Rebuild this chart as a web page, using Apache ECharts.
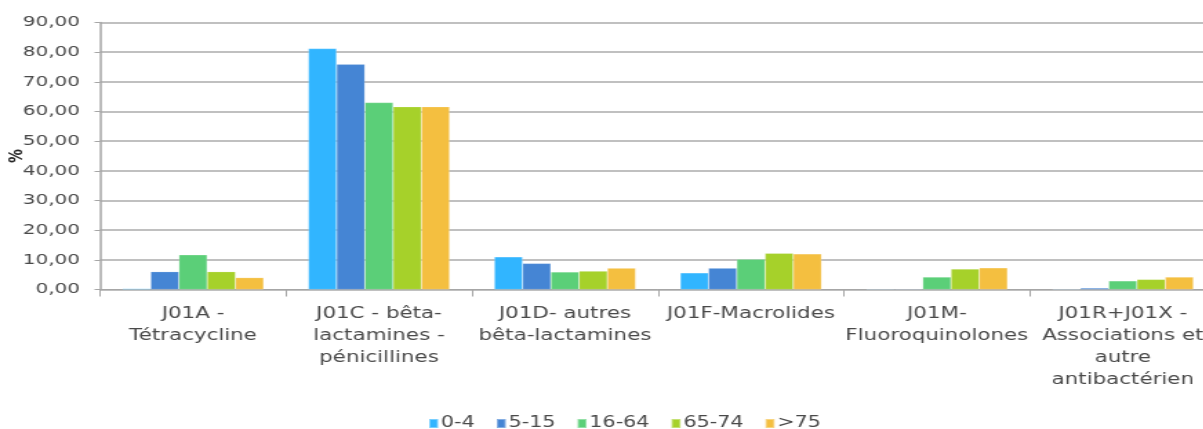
<!DOCTYPE html>
<html>
<head>
<meta charset="utf-8">
<script src="https://cdn.jsdelivr.net/npm/echarts@6/dist/echarts.min.js"></script>
<style>
  html, body { margin: 0; padding: 0; background: #ffffff; overflow: hidden; }
  #frame { width: 1203px; height: 429px; overflow: hidden; position: relative; }
  /* The chart is laid out narrow and widened horizontally, giving the broad lettering */
  #chart { width: 881px; height: 429px; transform: scaleX(1.38); transform-origin: 0 0; }
</style>
</head>
<body>
<div id="frame"><div id="chart"></div></div>
<script>
// ATC antibiotic classes (axis categories)
const categories = [
  'J01A -\nTétracycline',
  'J01C - bêta-\nlactamines -\npénicillines',
  'J01D- autres\nbêta-lactamines',
  'J01F-Macrolides',
  'J01M-\nFluoroquinolones',
  'J01R+J01X -\nAssociations et\nautre\nantibactérien'
];

// Age groups (legend)
const ageGroups = ['0-4', '5-15', '16-64', '65-74', '>75'];

// Share of prescriptions (%) per class, one array per age group
const age0to4   = [0.3, 81.2, 11.0, 5.6, 0.2, 0.2];
const age5to15  = [6.0, 75.9, 8.8, 7.2, 0.2, 0.5];
const age16to64 = [11.7, 63.0, 5.9, 10.2, 4.2, 2.9];
const age65to74 = [6.0, 61.6, 6.2, 12.2, 6.9, 3.4];
const age75plus = [4.0, 61.6, 7.2, 12.0, 7.3, 4.2];

const seriesValues = [age0to4, age5to15, age16to64, age65to74, age75plus];
const palette = ['#31B5FF', '#4585D4', '#5BCF78', '#A6D12A', '#F4BF40'];

// Value axis ticks
const yMin = 0, yMax = 90, yStep = 10;

const font = '"DejaVu Sans", sans-serif';
const textColor = '#4a4a4a';

const chart = echarts.init(document.getElementById('chart'), null, { renderer: 'canvas' });

chart.setOption({
  animation: false,
  backgroundColor: '#ffffff',
  color: palette,
  textStyle: { fontFamily: font },
  grid: {
    left: 72.5, right: 0, top: 22.5, bottom: 139.5,
    containLabel: false,
    outerBoundsMode: 'none'
  },
  legend: {
    data: ageGroups,
    top: 411,
    left: 305,
    itemWidth: 6.5,
    itemHeight: 9,
    itemGap: 15,
    icon: 'rect',
    textStyle: { fontFamily: font, fontSize: 15, color: textColor, padding: [0, 0, 0, -3] }
  },
  xAxis: {
    type: 'category',
    data: categories,
    axisLine: { lineStyle: { color: '#A6A6A6', width: 1 } },
    axisTick: { show: true, length: 7, lineStyle: { color: '#A6A6A6' } },
    axisLabel: {
      interval: 0,
      margin: 13,
      fontFamily: font,
      fontSize: 15.5,
      lineHeight: 22,
      color: textColor,
      align: 'center'
    }
  },
  yAxis: {
    type: 'value',
    min: yMin,
    max: yMax,
    interval: yStep,
    name: '%',
    nameLocation: 'middle',
    nameGap: 53,
    nameRotate: 90,
    nameMoveOverlap: false,
    nameTextStyle: { fontFamily: font, fontSize: 14, fontWeight: 'bold', color: '#262626' },
    axisLine: { show: true, lineStyle: { color: '#A6A6A6', width: 1.5 } },
    axisTick: { show: true, length: 4, lineStyle: { color: '#A6A6A6' } },
    splitLine: { show: true, lineStyle: { color: '#ABABAB', width: 1.5 } },
    axisLabel: {
      margin: 14.5,
      fontFamily: font,
      fontSize: 14.5,
      color: textColor,
      formatter: v => v.toFixed(2).replace('.', ',')
    }
  },
  series: ageGroups.map((name, i) => ({
    name: name,
    type: 'bar',
    data: seriesValues[i],
    barGap: '0%',
    barCategoryGap: '24%',
    itemStyle: { color: palette[i], borderColor: 'rgba(255,255,255,0.35)', borderWidth: 0.5 }
  }))
});
</script>
</body>
</html>
